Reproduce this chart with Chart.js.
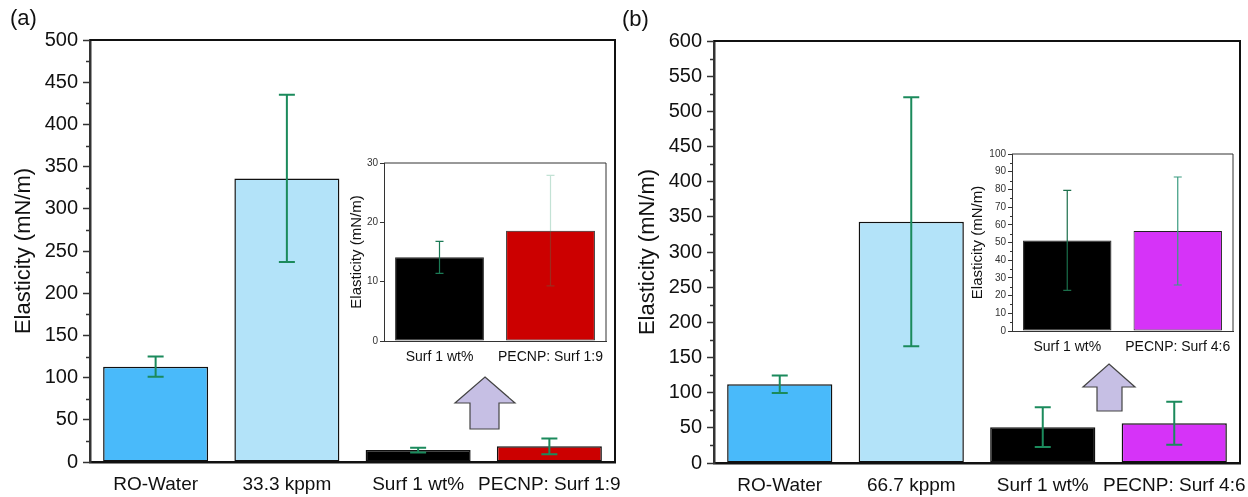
<!DOCTYPE html>
<html>
<head>
<meta charset="utf-8">
<script src="https://cdn.jsdelivr.net/npm/chart.js@4/dist/chart.umd.min.js"></script>
<style>
  html,body{margin:0;padding:0;background:#fff;}
  body{width:1248px;height:497px;position:relative;overflow:hidden;font-family:"Liberation Sans",Arial,sans-serif;}
  .box{position:absolute;}
  .panel{position:absolute;font-size:22px;color:#111;}
  svg{position:absolute;left:0;top:0;}
</style>
</head>
<body>
<script>
// ---------------- data ----------------
const categoriesA = ['RO-Water', '33.3 kppm', 'Surf 1 wt%', 'PECNP: Surf 1:9'];
const valuesA = [113, 336, 14.1, 18.6];
const errorsA = [12, 99, 2.7, 9.3];

const insetCategoriesA = ['Surf 1 wt%', 'PECNP: Surf 1:9'];
const insetValuesA = [14.1, 18.6];
const insetErrorsA = [2.7, 9.3];

const categoriesB = ['RO-Water', '66.7 kppm', 'Surf 1 wt%', 'PECNP: Surf 4:6'];
const valuesB = [112, 343, 51, 56.5];
const errorsB = [12.5, 177, 28.3, 30.5];

const insetCategoriesB = ['Surf 1 wt%', 'PECNP: Surf 4:6'];
const insetValuesB = [51.2, 56.5];
const insetErrorsB = [28.2, 30.5];

const yTitle = 'Elasticity (mN/m)';
</script>

<div class="box" style="left:0;top:0;width:624px;height:497px;"><canvas id="cA" width="624" height="497"></canvas></div>
<div class="box" style="left:624px;top:0;width:624px;height:497px;"><canvas id="cB" width="624" height="497"></canvas></div>
<div class="box" style="left:330px;top:150px;width:290px;height:215px;"><canvas id="iA" width="290" height="215"></canvas></div>
<div class="box" style="left:950px;top:140px;width:298px;height:225px;"><canvas id="iB" width="298" height="225"></canvas></div>
<div class="panel" style="left:10px;top:5px;">(a)</div>
<div class="panel" style="left:622px;top:6px;">(b)</div>
<svg width="1248" height="497">
  <polygon points="485,377 515,403 499,403 499,429 470,429 470,403 455,403" fill="#c6bfe4" stroke="#444" stroke-width="1.2"/>
  <polygon points="1109,364 1135,387 1122,387 1122,411 1097,411 1097,387 1083,387" fill="#c6bfe4" stroke="#444" stroke-width="1.2"/>
</svg>

<script>
const FONT = '"Liberation Sans", Arial, sans-serif';

const errBars = {
  id: 'errbars',
  afterDatasetsDraw(chart, args, o) {
    if (!o || !o.errors) return;
    const ds = chart.data.datasets[0];
    const meta = chart.getDatasetMeta(0);
    const y = chart.scales.y;
    const ctx = chart.ctx;
    meta.data.forEach((bar, i) => {
      const v = ds.data[i], e = o.errors[i];
      const yt = y.getPixelForValue(v + e), yb = y.getPixelForValue(v - e);
      const h = o.cap / 2;
      ctx.save();
      ctx.strokeStyle = o.colors[i];
      ctx.lineWidth = o.width;
      ctx.beginPath();
      ctx.moveTo(bar.x, yt); ctx.lineTo(bar.x, yb);
      ctx.moveTo(bar.x - h, yt); ctx.lineTo(bar.x + h, yt);
      ctx.moveTo(bar.x - h, yb); ctx.lineTo(bar.x + h, yb);
      ctx.stroke();
      ctx.restore();
    });
  }
};

const frame = {
  id: 'frame',
  afterDraw(chart, args, o) {
    const a = chart.chartArea, ctx = chart.ctx;
    ctx.save();
    ctx.strokeStyle = o.color; ctx.lineWidth = o.width;
    ctx.beginPath();
    ctx.moveTo(a.left, a.top); ctx.lineTo(a.right, a.top); ctx.lineTo(a.right, a.bottom);
    ctx.stroke();
    if (o.minorStep) {
      const y = chart.scales.y;
      ctx.strokeStyle = o.tickColor; ctx.lineWidth = o.tickWidth;
      ctx.beginPath();
      for (let v = y.min; v <= y.max + 1e-9; v += o.minorStep) {
        if (Math.abs(v / o.majorStep - Math.round(v / o.majorStep)) < 1e-6) continue;
        const p = Math.round(y.getPixelForValue(v)) + 0.5;
        ctx.moveTo(a.left, p); ctx.lineTo(a.left - o.minorLen, p);
      }
      ctx.stroke();
    }
    ctx.restore();
  }
};

function build(id, p) {
  return new Chart(document.getElementById(id), {
    type: 'bar',
    data: {
      labels: p.labels,
      datasets: [{
        data: p.values,
        backgroundColor: p.colors,
        borderColor: p.borderColor,
        borderWidth: p.borderWidth,
        borderSkipped: false,
        barPercentage: 0.8,
        categoryPercentage: 1.0
      }]
    },
    options: {
      responsive: false,
      animation: false,
      devicePixelRatio: 1,
      layout: { padding: { left: 0, top: p.padTop, right: p.padRight, bottom: 0 } },
      plugins: {
        legend: { display: false },
        tooltip: { enabled: false },
        errbars: { errors: p.errors, colors: p.errColors, width: p.errWidth, cap: p.cap },
        frame: { color: p.frameColor, width: p.frameWidth, minorStep: p.minorStep, majorStep: p.step,
                 minorLen: p.minorLen, tickColor: p.axisColor, tickWidth: p.tickWidth }
      },
      scales: {
        x: {
          grid: { display: false },
          border: { display: true, color: p.xAxisColor, width: p.axisWidth },
          ticks: { color: '#111', font: { family: FONT, size: p.xFont }, padding: p.xPad, maxRotation: 0, autoSkip: false },
          afterFit(s) { s.height = p.xHeight; s.paddingLeft = 0; s.paddingRight = 0; }
        },
        y: {
          min: 0, max: p.max,
          grid: { display: true, drawOnChartArea: false, drawTicks: true, tickLength: p.tickLen,
                  tickColor: p.axisColor, tickWidth: p.tickWidth },
          border: { display: true, color: p.axisColor, width: p.axisWidth },
          ticks: { stepSize: p.step, color: p.tickColorTxt, font: { family: FONT, size: p.yFont }, padding: p.yPad },
          title: { display: true, text: yTitle, color: '#111', font: { family: FONT, size: p.titleFont },
                   padding: { top: p.titlePad, bottom: 0 } },
          afterFit(s) { s.width = p.yWidth; s.paddingTop = 0; s.paddingBottom = 0; }
        }
      }
    },
    plugins: [errBars, frame]
  });
}

const mainCommon = {
  borderColor: '#111', borderWidth: 1.5,
  errWidth: 2, cap: 16,
  frameColor: '#111', frameWidth: 2,
  minorLen: 4, tickLen: 7, tickWidth: 1.5,
  axisColor: '#333', xAxisColor: '#111', axisWidth: 2.5,
  tickColorTxt: '#111',
  xFont: 19, xPad: 3, yFont: 20, yPad: 5, titleFont: 22, titlePad: 11,
  yWidth: 90, xHeight: 35, padTop: 40, padRight: 9, step: 50, minorStep: 25
};

build('cA', Object.assign({}, mainCommon, {
  labels: categoriesA, values: valuesA, errors: errorsA, max: 500,
  colors: ['#49bafa', '#b3e3f9', '#000000', '#cc0000'],
  errColors: ['#1b8a5c', '#1b8a5c', '#1b8a5c', '#1b8a5c']
}));

build('cB', Object.assign({}, mainCommon, {
  labels: categoriesB, values: valuesB, errors: errorsB, max: 600,
  padTop: 41, padRight: 8, xHeight: 34,
  colors: ['#49bafa', '#b3e3f9', '#000000', '#d633f8'],
  errColors: ['#1b8a5c', '#1b8a5c', '#1b8a5c', '#1b8a5c']
}));

const insetCommon = {
  borderColor: '#222', borderWidth: 1,
  errWidth: 1.2, cap: 8,
  frameColor: '#333', frameWidth: 1,
  tickLen: 4, tickWidth: 1, minorLen: 2,
  axisColor: '#333', xAxisColor: '#333', axisWidth: 1,
  tickColorTxt: '#333',
  xFont: 14, xPad: 0, yFont: 10, yPad: 2, titleFont: 15
};

build('iA', Object.assign({}, insetCommon, {
  labels: insetCategoriesA, values: insetValuesA, errors: insetErrorsA,
  max: 30, step: 10, minorStep: 0,
  yWidth: 54, xHeight: 24, padTop: 13, padRight: 14, titlePad: 18,
  colors: ['#000000', '#cc0000'],
  errColors: ['#1b7a55', 'rgba(40,150,105,0.28)']
}));

build('iB', Object.assign({}, insetCommon, {
  labels: insetCategoriesB, values: insetValuesB, errors: insetErrorsB,
  max: 100, step: 10, minorStep: 5,
  yWidth: 62, xHeight: 34, padTop: 14, padRight: 15, titlePad: 19,
  colors: ['#000000', '#d633f8'],
  errColors: ['#1b6e4a', '#3a9c80']
}));
</script>
</body>
</html>
